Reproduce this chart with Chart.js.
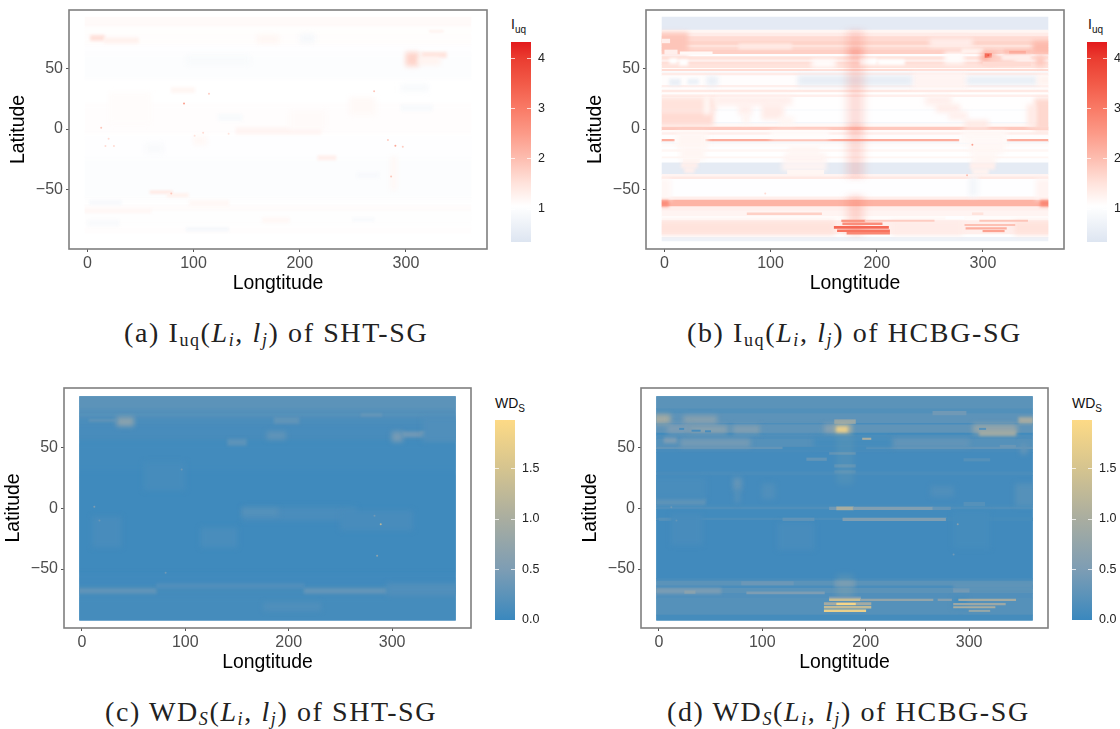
<!DOCTYPE html>
<html>
<head>
<meta charset="utf-8">
<script src="https://cdn.jsdelivr.net/npm/chart.js@4"></script>
<style>
html,body{margin:0;padding:0;background:#fff;width:1120px;height:729px;overflow:hidden}
canvas{position:absolute}
.cap{position:absolute;font-family:"Liberation Serif",serif;font-size:28px;letter-spacing:1.6px;color:#222;white-space:nowrap;line-height:32px}
.cap sub{font-size:18px;line-height:0;vertical-align:-4px}
.lt{position:absolute;font-family:"Liberation Sans",sans-serif;font-size:14px;color:#111;white-space:nowrap}
.lt sub{font-size:10px;line-height:0}
</style>
</head>
<body>
<canvas id="pa"></canvas><canvas id="pb"></canvas><canvas id="pc"></canvas><canvas id="pd"></canvas>
<canvas id="ca"></canvas><canvas id="cb"></canvas><canvas id="cc"></canvas><canvas id="cd"></canvas>
<div class="cap" style="left:124px;top:317px">(a) I<sub>uq</sub>(<i>L<sub>i</sub></i>, <i>l<sub>j</sub></i>) of SHT-SG</div>
<div class="cap" style="left:687px;top:317px">(b) I<sub>uq</sub>(<i>L<sub>i</sub></i>, <i>l<sub>j</sub></i>) of HCBG-SG</div>
<div class="cap" style="left:105px;top:696px">(c) WD<sub><i>S</i></sub>(<i>L<sub>i</sub></i>, <i>l<sub>j</sub></i>) of SHT-SG</div>
<div class="cap" style="left:667px;top:696px">(d) WD<sub><i>S</i></sub>(<i>L<sub>i</sub></i>, <i>l<sub>j</sub></i>) of HCBG-SG</div>
<div class="lt" style="left:511px;top:16px">I<sub>uq</sub></div>
<div class="lt" style="left:1088px;top:16px">I<sub>uq</sub></div>
<div class="lt" style="left:495px;top:395px">WD<sub>S</sub></div>
<div class="lt" style="left:1072px;top:395px">WD<sub>S</sub></div>
<script>
// axis ticks
const lonTicks=[0,100,200,300];
const latTicks=[-50,0,50];
const iuqTicks=[1,2,3,4];
const wdTicks=[0,0.5,1,1.5];

// colour ramps, value then colour
const iuqStops=[[0.33,"#dde5f1"],[1.05,"#ffffff"],[1.5,"#ffe3dc"],[2,"#fdbdb0"],[2.5,"#fc9a88"],[3,"#f97a66"],[3.5,"#f25a48"],[4,"#ea3c30"],[4.32,"#e31a1c"]];
const wdStops=[[0,"#3a88be"],[0.25,"#5c93b9"],[0.5,"#7d9db4"],[1,"#a9ada0"],[1.5,"#d5c48f"],[1.98,"#fdda86"]];

// base: value under everything
// bands: lat top, lat bottom, value (whole width)
// patches and hot: lat top, lat bottom, lon left, lon right, value
// spots: lon, lat, value
const baseA=1.03,baseB=1.05,baseC=0.05,baseD=0.06;

const bandsA=[[92.5,83,1.13],[83,76,1.07],[76,68,1.09],[68,62,1.03],[62,40,0.99],[40,20,1.04],[20,-5,1.08],[-5,-25,1.03],[-25,-58,0.99],[-58,-64,1.02],[-64,-68,1.11],[-68,-80,1.02],[-80,-87,1.08],[-87,-92.5,1.04]];
const patchesA=[[77,73,3,16,1.55],[75,71,16,48,1.28],[77,71,160,180,1.2],[63,52,300,312,1.7],[63,59,315,338,1.5],[59,53,312,332,1.25],[81,80,322,335,1.3],
[1,-4,140,220,1.22],[15,0,190,225,1.13],[26,12,247,271,1.15],[34,30,79,101,1.2],[30,5,20,60,1.1],[-51,-53,59,80,1.4],[-53,-56,75,95,1.25],[-59,-63,96,133,1.18],[-66,-69,-2.5,60,1.18],[-22,-25.5,217,234,1.3],[-23,-50,286,291,1.18],[-6,-13,100,112,1.16],[-73,-77,165,190,1.16],
[-59,-62,2,32,0.88],[-81,-84,93,133,0.85],[60,53,93,153,0.9],[78,71,200,214,0.85],[-36,-40,254,274,0.88],[37,31,295,321,0.9],[20,15,295,325,0.9],[12,7,123,146,0.9],[-12,-20,55,72,0.92],[-73,-76,250,270,0.9],[-75,-80,0,30,0.92]];
const spotsA=[[91,21,2.4],[114.5,29,1.8],[13,1,1.9],[270,31,1.9],[290,-13.7,2.3],[283,-9,1.8],[297,-14.6,1.8],[286,-39,1.9],[17,-14,1.6],[25,-14,1.6],[20,-8,1.6],[109,-3,1.6],[101,-5.5,1.5],[133,-4,1.5],[79,-53,1.9]];

const bandsB=[[92.5,81.5,0.48],[81.5,79,1.2],[79,76,1.35],[76,72,1.6],[72,69,1.7],[69,67,1.5],[67,65,1.65],[65,61.5,1.75],[61.5,59.5,1.03],[59.5,57,1.5],[57,55,1.3],[55,53,1.55],[53,50,1.5],[50,49,1.1],[49,47.5,1.6],[47.5,46,0.95],[46,44,1.35],[44,36,1.08],[36,34,1.3],[34,32,1.08],[32,30,1.4],[30,28,1.05],[28,26,1.3],[26,15.8,1.06],[15.8,15,0.85],[15,5.5,1.03],[5.5,4.5,0.82],[4.5,1.5,1.15],[1.5,-1.2,1.85],[-1.2,-3,1.12],[-3,-5,1.3],[-5,-8.5,1.08],[-8.5,-10.5,2.25],[-10.5,-12.5,0.85],[-12.5,-15,1.12],[-15,-17,1.03],[-17,-19,1.18],[-19,-23,1.05],[-23,-24.5,1.2],[-24.5,-27.8,1.03],[-27.8,-37.4,0.5],[-37.4,-39.5,1.22],[-39.5,-41.5,1.4],[-41.5,-56,1.03],[-56,-58.5,1.3],[-58.5,-64,2.15],[-64,-67.5,1.3],[-67.5,-72,1.22],[-72,-75.5,1.1],[-75.5,-87,1.3],[-87,-89.3,1.02],[-89.3,-92.5,0.7]];
const patchesB=[[79,62,-2.5,22,1.9],[72,62,347,361.5,2.05],[65,61.5,0,12,1.3],[63.5,61.5,15,45,1.15],[74,71,-2.5,5,1.3],
[70,66,70,120,1.4],[74,68,250,290,1.3],[63,54,264,282,1.1],[66,62,280,300,1.25],
[58,54,5,12,1.05],[57,52.5,14,22,1.05],[57,51,139,161,1.08],[58,53,184,200,1.05],[57,53,201,226,1.05],
[63,55,298,312,2.1],[62,59,302,308,3.3],[60,54,306,330,1.75],[65,61,320,345,2],[64,62,325,340,2.3],[61,57,318,345,1.3],[55,52,300,345,1.6],[60,52,350,358,1.85],
[46,34,233,285,1.22],[44,36,126,233,0.55],[43,37,285,351,0.55],[41,36,5,15,0.6],[41,37,22,32,0.65],[43,36,40,50,0.6],[44,36,351,361.5,1.25],
[26,15,-2.5,48,1.5],[15,3,-2.5,46,1.6],[26,12,38,42,1.1],[27,20,48,120,1.3],[20,12,70,82,1.3],[12,5,74,80,1.25],[20,8,92,112,1.35],[10,4,108,122,1.2],[25,-1,349,361.5,1.65],[20,2,342,349,1.4],[27,20,246,270,1.3],[20,14,256,278,1.35],[14,8,268,285,1.3],[7,1,283,305,1.4],
[-8,-11,10,38,1.08],[-8,-11,278,322,1.1],[-3,-15,12,40,1.2],[-15,-25,15,38,1.2],[-25,-27.8,18,33,1.2],[-2,-8,100,155,1.1],[-15,-20,118,145,1.2],[-20,-27.8,113,152,1.22],[-2,-10,280,322,1.15],[-10,-20,287,320,1.18],[-20,-27.8,290,312,1.2],
[-27.8,-32,16,31,1.3],[-32,-36,19,28,1.3],[-27.8,-34,111,152,1.22],[-34,-37,116,150,1.2],[-27.8,-33,288,311,1.3],[-33,-37.4,290,305,1.25],[-40,-55,287,295,0.8],
[-41.5,-58,-2.5,6,1.18],[-41.5,-58,350,361.5,1.22],[-59,-63.5,-2.5,4,2.7],[-59,-63.5,354,361.5,2.8],
[-69,-70.5,78,148,1.75],[-69,-70.5,290,300,1.5],[-76,-87,-2.5,160,1.5],[-76,-87,215,280,1.35],[-76,-87,330,361.5,1.5],[-72,-74,265,282,1.03]];
const overlayB=[[81,-40,170,190,0.1],[81,-40,175,185,0.13],[-55,-87,170,190,0.1],[-55,-87,175,185,0.16],[2,-2,174,186,0.2],[66,60,174,186,0.25]];
const hotB=[[-75,-76.2,167,189,2.6],[-75,-76,189,254,1.8],[-75,-76,297,342,1.9],[-77.4,-78.8,168,205,2.7],[-80.2,-81.8,160,211,3.3],[-83,-84.4,163,212,3.1],[-85.2,-86.6,172,212,2.8],[-78.5,-79.5,283,330,1.95],[-81.2,-82.4,284,322,2.2],[-83.5,-84.6,300,320,2.4]];
const spotsB=[[305,60.7,3.6],[290,-13,2.4],[285,-38,2],[95,-53,1.6]];

const bandsC=[[92.5,80,0.25],[80,74,0.22],[74,68,0.14],[68,55,0.1],[55,30,0.06],[30,-55,0.04],[-55,-63,0.05],[-63,-66,0.08],[-66,-72,0.08],[-72,-92.5,0.08]];
const patchesC=[[-66,-70,-2.5,72,0.28],[-62,-66,72,215,0.17],[-66,-70,215,295,0.3],[-62,-72,295,361.5,0.17],[-78,-84,176,231,0.16],
[75,68,34,50,0.65],[73,72,7,34,0.35],[75,70,186,210,0.28],[63,57,179,197,0.28],[63,55,300,310,0.45],[63,59,310,334,0.4],[63,62,328,334,0.55],[78,76,270,290,0.32],[57,52,141,159,0.25],
[1,-10,155,265,0.12],[0,-6,155,190,0.2],[-2,-18,250,320,0.1],[-7,-32,10,38,0.1],[-16,-32,115,150,0.11],[38,15,60,100,0.09],[75,55,330,361.5,0.16]];
const spotsC=[[12,1.4,0.5],[289,-13,1.2],[285.5,-39,0.7],[283,-6,0.4],[17,-10,0.35],[96.5,32,0.4],[81,-53,0.4]];

const bandsD=[[92.5,82,0.24],[82,78,0.18],[78,70,0.26],[70,68.7,0.1],[68.7,62,0.28],[62,60.3,0.06],[60.3,57,0.14],[57,50.5,0.2],[50.5,48.5,0.3],[48.5,46,0.1],[46,30,0.07],[30,27,0.12],[27,3,0.07],[3,1,0.09],[1,-1,0.16],[-1,-8,0.06],[-8,-10,0.14],[-10,-58,0.05],[-58,-60,0.1],[-60,-64,0.24],[-64,-66,0.12],[-66,-70,0.24],[-70,-74,0.17],[-74,-88,0.2],[-88,-92.5,0.08]];
const patchesD=[[77,70,-2.5,11,0.95],[76,70,24,56,0.62],[80,77,265,297,0.4],[75,70,348,361.5,0.95],[69,62,8,30,0.5],[68,62,30,66,0.62],[68,62,72,98,0.55],[68,62,100,160,0.27],[69,62,304,346,0.75],[64,60,310,345,0.9],
[66,65,20,24,0.1],[64.5,63.5,32,40,0.1],[64,63,45,50,0.1],[66,65,310,316,0.2],
[73,70,170,190,0.8],[69,62,160,170,0.6],[69,62,170,186,1.1],[67,63,172,182,1.7],
[57,51,21,88,0.45],[58,54,5,17,0.5],[57,51,225,300,0.3],[58,50,150,225,0.08],[57.9,56.8,197,205,1],[50.5,48.5,120,200,0.08],[52,50,330,345,0.35],[53,45,350,356,0.3],
[46,44.5,165,190,0.28],[41.5,39.5,143,162,0.3],[36,34,170,190,0.25],[41,39,295,320,0.2],[31,29,170,190,0.2],[25,15,72,80,0.3],[15,5,74,78,0.22],[20,8,100,112,0.16],[8,3,-2.5,45,0.28],[25,8,-2.5,45,0.11],[20,2,345,361.5,0.2],[18,10,263,285,0.16],[5,2,295,315,0.2],
[1,-1,165,172,0.4],[1.2,-1.2,172,188,1],[1,-1,188,265,0.55],[1,-1,265,282,0.3],[-8,-10,120,150,0.3],[-8,-10,178,278,0.55],[-8,-10,278,361.5,0.08],[-8,-10,0,12,0.2],
[-5,-30,12,42,0.1],[-12,-34,115,150,0.1],[-3,-33,285,320,0.08],
[-60,-64,170,190,0.36],[-60.5,-63,80,130,0.36],[-66,-70,-2.5,60,0.48],[-68,-70,25,35,0.65],[-68.8,-70.4,85,160,0.5],[-66,-69,285,300,0.45],[-62,-66,285,361.5,0.28],[-74,-82,285,298,0.08]];
const overlayD=[[60,20,172,188,0.06],[-55,-75,172,188,0.1]];
const hotD=[[-73,-75,165,195,0.5],[-74.6,-76,165,195,1.35],[-74.8,-76,195,265,0.75],[-74.8,-76,270,283,0.6],[-74.8,-76,290,345,0.95],[-77.8,-79.6,160,205,0.95],[-78.2,-79.4,172,190,1.9],[-78.3,-79.5,285,335,0.85],[-80.8,-82.2,160,205,1.3],[-81,-82,285,325,1],[-83.6,-85,160,200,1.75],[-84,-85,300,320,0.8]];
const spotsD=[[289,-13,0.6],[17,-10,0.3],[285,-38,0.4],[12,1,0.4]];

// interpolate a ramp
function rampColor(stops,v){
  let i=0;
  if(v<=stops[0][0]) return stops[0][1];
  while(i<stops.length-1 && v>stops[i+1][0]) i++;
  if(i>=stops.length-1) return stops[stops.length-1][1];
  const t=(v-stops[i][0])/(stops[i+1][0]-stops[i][0]);
  const a=stops[i][1],b=stops[i+1][1];
  const c=[1,3,5].map(k=>Math.round(parseInt(a.substr(k,2),16)*(1-t)+parseInt(b.substr(k,2),16)*t));
  return `rgb(${c[0]},${c[1]},${c[2]})`;
}

// frame outline, ggplot style panel border
const framePlugin={id:"frame",afterDraw(chart){
  const a=chart.chartArea,c=chart.ctx;
  c.save();c.strokeStyle="#7f7f7f";c.lineWidth=1.6;
  c.strokeRect(a.left,a.top,a.right-a.left,a.bottom-a.top);
  c.restore();
}};
// keep the cells inside the map extent and soften them per dataset
const softPlugin={id:"soft",
  beforeDatasetDraw(chart,args){
    const c=chart.ctx,x=chart.scales.x,y=chart.scales.y;
    const l=x.getPixelForValue(-2.5),r=x.getPixelForValue(361.5),t=y.getPixelForValue(92.5),b=y.getPixelForValue(-92.5);
    c.save();
    c.beginPath();c.rect(l,t,r-l,b-t);c.clip();
    c.filter=`blur(${chart.data.datasets[args.index].soft||0}px)`;
  },
  afterDatasetDraw(chart){chart.ctx.restore();}
};
function softFor(px,thin){
  if(px>7) return 2.5;
  if(px>4.5) return Math.max(thin,1.4);
  return thin;
}
// scale padding for first and last label would move the frame
function noScalePadding(s){s.paddingTop=0;s.paddingBottom=0;s.paddingLeft=0;s.paddingRight=0;}

function heatChart(id,frame,yRange,stops,overlayRgb,bandSoft,thinSoft,lists){
  const W=frame.r-frame.l+68,H=frame.b-frame.t+56;
  const cv=document.getElementById(id);
  cv.width=W;cv.height=H;
  cv.style.left=(frame.l-62)+"px";
  cv.style.top=(frame.t-6)+"px";
  const pxPerLat=(frame.b-frame.t)/(yRange[1]-yRange[0]);
  // cells on the map edge run past it, the clip trims them so blur does not fade there
  const cell=(p,color,soft)=>({
    type:"bar",indexAxis:"y",grouped:false,
    barThickness:(p[0]-p[1])*pxPerLat,
    inflateAmount:0.4,soft:soft,
    backgroundColor:color,borderWidth:0,
    data:[{x:[p[2]<=-2.5?-12:p[2],p[3]>=361.5?374:p[3]],y:(p[0]+p[1])/2}]
  });
  let sets=[cell([96,-96,-2.5,361.5],rampColor(stops,lists.base),0)];
  lists.bands.forEach(b=>sets.push(cell([b[0]>=92.5?96:b[0],b[1]<=-92.5?-96:b[1],-2.5,361.5],rampColor(stops,b[2]),bandSoft)));
  lists.patches.forEach(p=>sets.push(cell(p,rampColor(stops,p[4]),softFor((p[0]-p[1])*pxPerLat,thinSoft))));
  lists.overlay.forEach(p=>sets.push(cell(p,`rgba(${overlayRgb},${p[4]})`,3)));
  lists.hot.forEach(p=>sets.push(cell(p,rampColor(stops,p[4]),0.6)));
  sets.push({
    type:"scatter",soft:0.3,
    data:lists.spots.map(s=>({x:s[0],y:s[1]})),
    pointRadius:1,pointBorderWidth:0,
    pointBackgroundColor:lists.spots.map(s=>rampColor(stops,s[2]))
  });
  sets.reverse();// first dataset is painted last
  return new Chart(cv,{
    type:"bar",
    data:{datasets:sets},
    plugins:[softPlugin,framePlugin],
    options:{
      indexAxis:"y",responsive:false,animation:false,
      layout:{padding:{left:0,top:6,right:6,bottom:0}},
      plugins:{legend:{display:false},tooltip:{enabled:false}},
      scales:{
        x:{type:"linear",position:"bottom",min:-17.3,max:376.3,offset:false,beginAtZero:false,
          grid:{drawOnChartArea:false,offset:false,tickLength:3,tickColor:"#555"},border:{display:false},
          afterBuildTicks(s){s.ticks=lonTicks.map(v=>({value:v}));},
          afterFit(s){s.height=50;noScalePadding(s);},
          ticks:{font:{family:"Liberation Sans",size:16},color:"#4d4d4d",padding:2,maxRotation:0},
          title:{display:true,text:"Longtitude",color:"#000",font:{family:"Liberation Sans",size:19.4},padding:{top:0,bottom:4}}},
        y:{type:"linear",position:"left",min:yRange[0],max:yRange[1],offset:false,
          grid:{drawOnChartArea:false,offset:false,tickLength:3,tickColor:"#555"},border:{display:false},
          afterBuildTicks(s){s.ticks=latTicks.map(v=>({value:v}));},
          afterFit(s){s.width=62;noScalePadding(s);},
          ticks:{font:{family:"Liberation Sans",size:16},color:"#4d4d4d",padding:3,callback:v=>String(v).replace("-","\u2212")},
          title:{display:true,text:"Latitude",color:"#000",font:{family:"Liberation Sans",size:19.4},padding:{top:0,bottom:0}}}
      }
    }
  });
}

function colorBar(id,x,top,bottom,range,ticks,stops,digits){
  const cv=document.getElementById(id);
  cv.width=50;cv.height=bottom-top+12;
  cv.style.left=x+"px";cv.style.top=(top-6)+"px";
  return new Chart(cv,{
    type:"bar",
    data:{labels:[""],datasets:[{
      data:[[range[0],range[1]]],categoryPercentage:1,barPercentage:1,borderWidth:0,
      backgroundColor(ctx){
        const a=ctx.chart.chartArea;
        if(!a) return stops[0][1];
        const y=ctx.chart.scales.y;
        const g=ctx.chart.ctx.createLinearGradient(0,y.getPixelForValue(range[0]),0,y.getPixelForValue(range[1]));
        stops.forEach(s=>g.addColorStop(Math.min(1,Math.max(0,(s[0]-range[0])/(range[1]-range[0]))),s[1]));
        return g;
      }
    }]},
    plugins:[{id:"barTicks",afterDatasetsDraw(chart){
      const c=chart.ctx,a=chart.chartArea,y=chart.scales.y;
      c.save();c.strokeStyle="rgba(255,255,255,0.75)";c.lineWidth=1;
      ticks.forEach(v=>{
        const p=Math.round(y.getPixelForValue(v))+0.5;
        c.beginPath();c.moveTo(a.left,p);c.lineTo(a.left+4,p);c.moveTo(a.right-4,p);c.lineTo(a.right,p);c.stroke();
      });
      c.restore();
    }}],
    options:{
      responsive:false,animation:false,
      layout:{padding:{left:0,top:6,right:0,bottom:6}},
      plugins:{legend:{display:false},tooltip:{enabled:false}},
      scales:{
        x:{display:false},
        y:{position:"right",min:range[0],max:range[1],beginAtZero:false,
          grid:{display:false,drawTicks:false},border:{display:false},
          afterBuildTicks(s){s.ticks=ticks.map(v=>({value:v}));},
          afterFit(s){s.width=30;noScalePadding(s);},
          ticks:{font:{family:"Liberation Sans",size:12.5},color:"#222",padding:7,callback:v=>v.toFixed(digits)}}
      }
    }
  });
}

heatChart("pa",{l:69,r:487,t:9.5,b:248.5},[-98.8,98],iuqStops,"248,110,90",2,1,{base:baseA,bands:bandsA,patches:patchesA,overlay:[],hot:[],spots:spotsA});
heatChart("pb",{l:646,r:1064,t:9.5,b:248.5},[-98.8,98],iuqStops,"248,110,90",0.6,0.6,{base:baseB,bands:bandsB,patches:patchesB,overlay:overlayB,hot:hotB,spots:spotsB});
heatChart("pc",{l:64,r:471.5,t:387.5,b:627.5},[-98.6,99.2],wdStops,"253,218,134",2.5,1.2,{base:baseC,bands:bandsC,patches:patchesC,overlay:[],hot:[],spots:spotsC});
heatChart("pd",{l:640.5,r:1048,t:387.5,b:627.5},[-98.6,99.2],wdStops,"253,218,134",0.7,0.6,{base:baseD,bands:bandsD,patches:patchesD,overlay:overlayD,hot:hotD,spots:spotsD});

colorBar("ca",511,42,242,[0.335,4.32],iuqTicks,iuqStops,0);
colorBar("cb",1087,42,242,[0.335,4.32],iuqTicks,iuqStops,0);
colorBar("cc",495,420,620,[0,1.98],wdTicks,wdStops,1);
colorBar("cd",1072,420,620,[0,1.98],wdTicks,wdStops,1);
</script>
</body>
</html>
